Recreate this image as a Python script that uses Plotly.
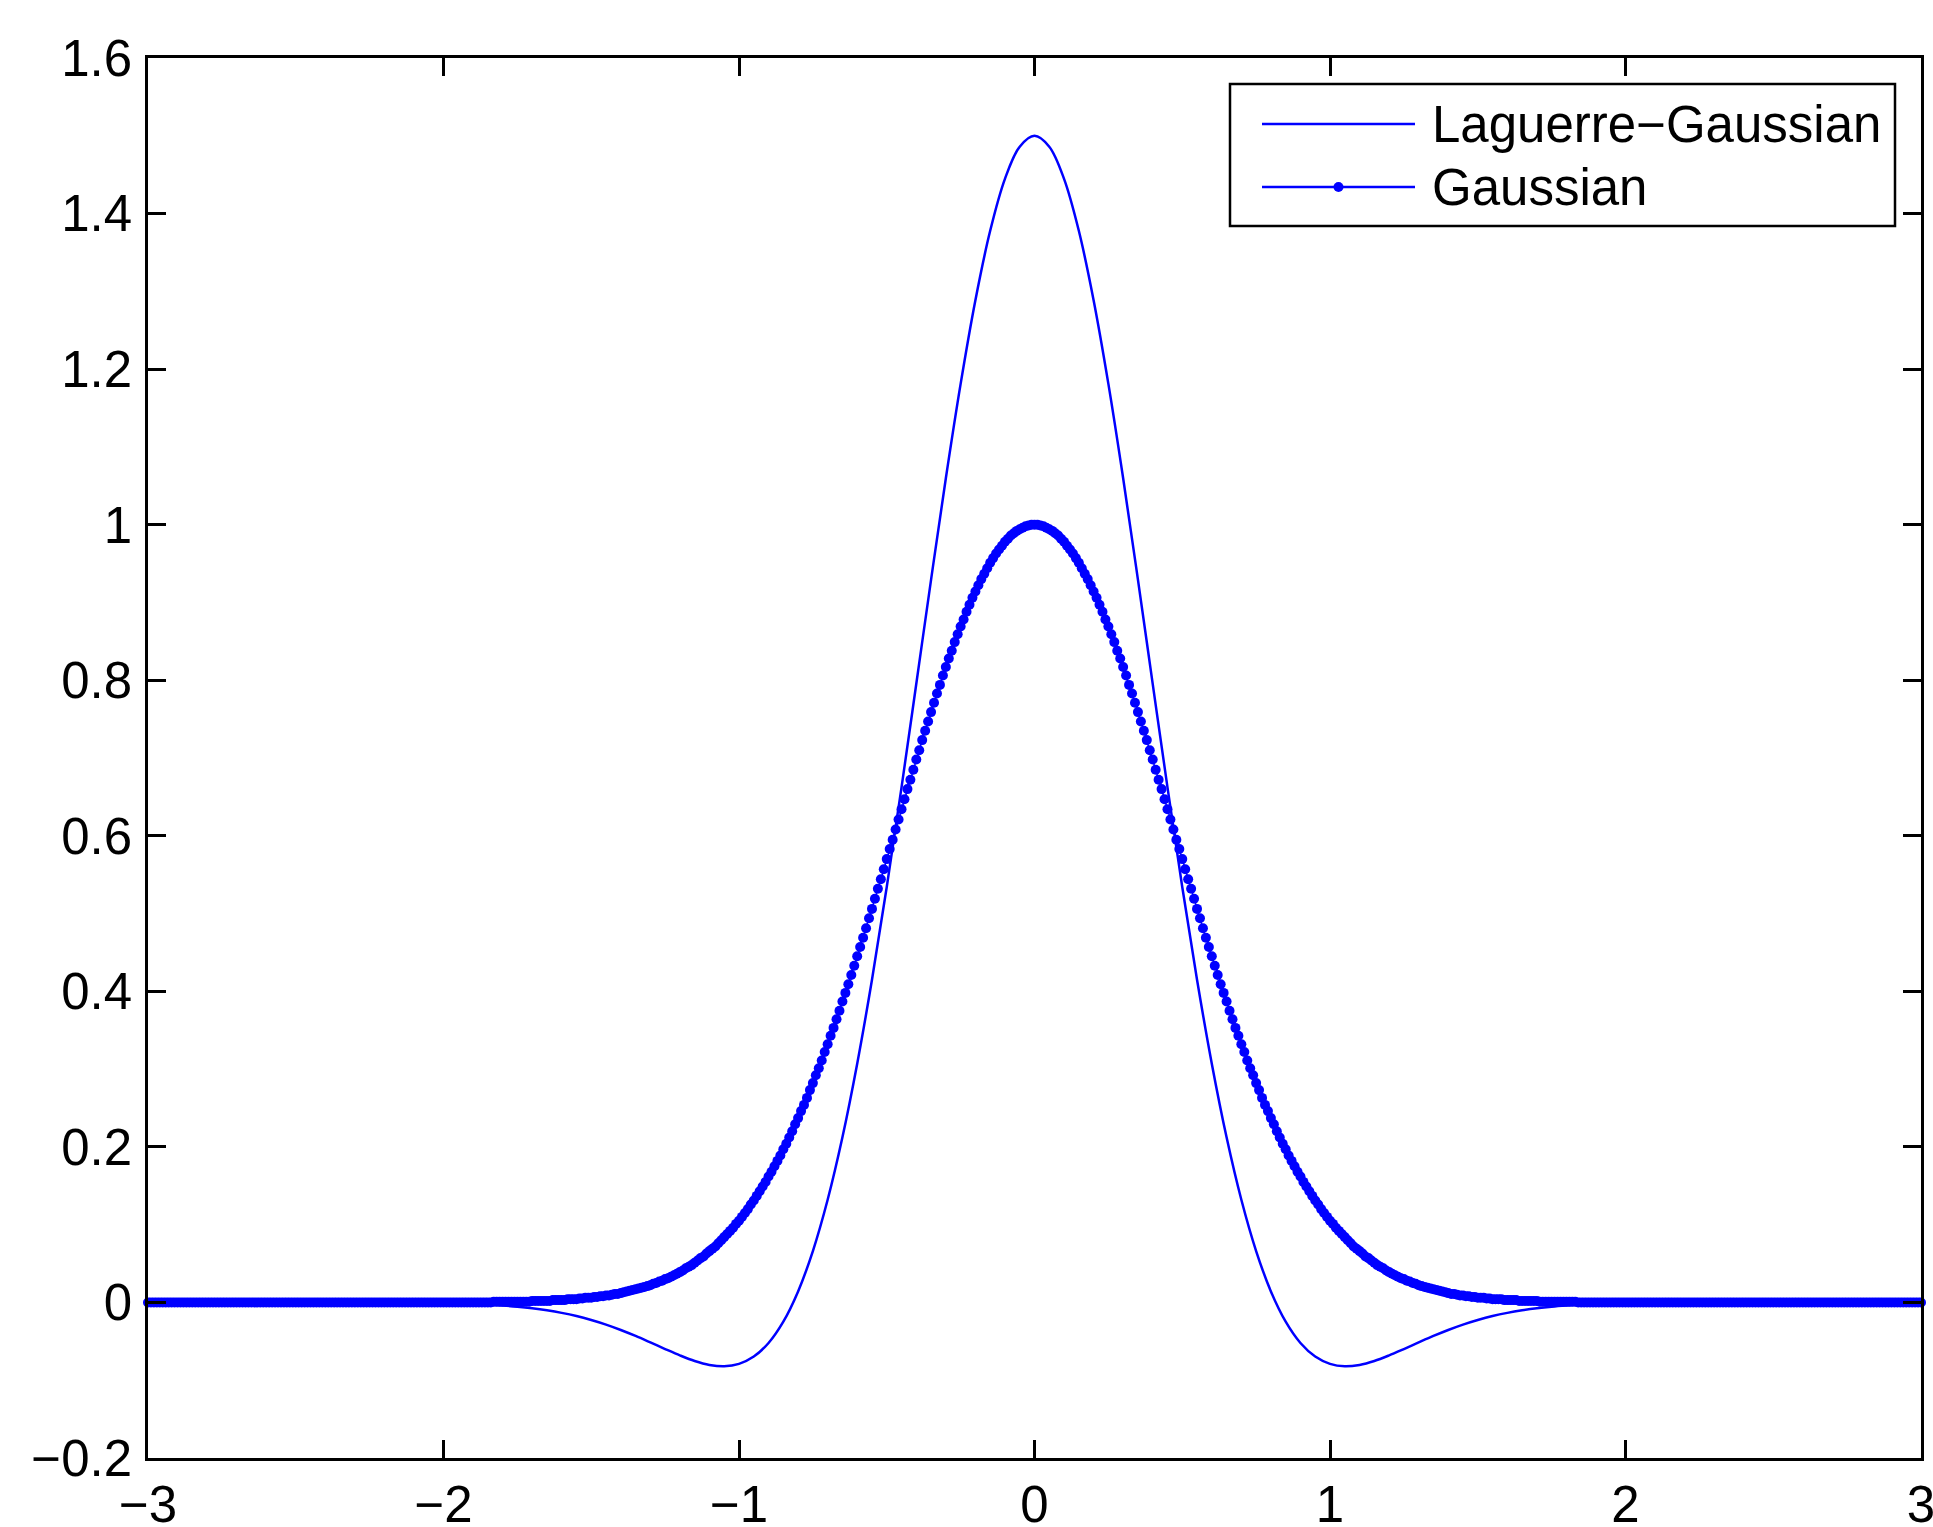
import numpy as np
import plotly.graph_objects as go

# ---------------- data ----------------
# Gaussian, sampled every 0.01 on [-3, 3]
gauss_x = np.round(np.linspace(-3, 3, 601), 2)
gauss_y = [
    0, 0, 0, 0, 0, 0, 0, 0, 0, 0, 0, 0, 0, 0, 0, 0, 0, 0, 0, 0,
    0, 0, 0, 0, 0, 0, 0, 0, 0, 0, 0, 0, 0, 0, 0, 0, 0, 0, 0, 0,
    0, 0, 0, 0, 0, 0, 0, 0, 0, 0, 0, 0, 0, 0, 0, 0, 0, 0, 0, 0,
    0, 0, 0, 0, 0, 0, 0, 0, 0, 0, 0, 0, 0, 0, 0, 0, 0, 0, 0, 0,
    0, 0, 0, 0, 0, 0, 0, 0, 0, 0, 0, 0, 0, 0, 0, 0, 0, 0, 0, 0,
    0, 0, 0, 0, 0, 0, 0, 0, 0, 0, 0, 0, 0, 0, 0, 0, 0,
    0.001, 0.001, 0.001,
    0.001, 0.001, 0.001, 0.001, 0.001, 0.001, 0.001, 0.001, 0.001, 0.001,
    0.002, 0.002, 0.002, 0.002, 0.002, 0.002, 0.002, 0.003, 0.003, 0.003,
    0.003, 0.003, 0.004, 0.004, 0.004, 0.004, 0.005, 0.005, 0.006, 0.006,
    0.006, 0.007, 0.007, 0.008, 0.008, 0.009, 0.009, 0.010, 0.011, 0.011,
    0.012, 0.013, 0.014, 0.015, 0.016, 0.017, 0.018, 0.019, 0.020, 0.021,
    0.022, 0.024, 0.025, 0.027, 0.028, 0.030, 0.031, 0.033, 0.035, 0.037,
    0.039, 0.041, 0.044, 0.046, 0.048, 0.051, 0.054, 0.057, 0.059, 0.063,
    0.066, 0.069, 0.072, 0.076, 0.080, 0.084, 0.088, 0.092, 0.096, 0.101,
    0.105, 0.110, 0.115, 0.120, 0.126, 0.131, 0.137, 0.143, 0.149, 0.155,
    0.162, 0.168, 0.175, 0.182, 0.189, 0.197, 0.204, 0.212, 0.220, 0.229,
    0.237, 0.246, 0.254, 0.263, 0.273, 0.282, 0.292, 0.301, 0.311, 0.322,
    0.332, 0.343, 0.353, 0.364, 0.375, 0.387, 0.398, 0.409, 0.421, 0.433,
    0.445, 0.457, 0.469, 0.481, 0.494, 0.506, 0.519, 0.532, 0.544, 0.557,
    0.570, 0.583, 0.595, 0.608, 0.621, 0.634, 0.647, 0.660, 0.672, 0.685,
    0.698, 0.710, 0.723, 0.735, 0.747, 0.759, 0.771, 0.783, 0.794, 0.806,
    0.817, 0.828, 0.838, 0.849, 0.859, 0.869, 0.878, 0.888, 0.897, 0.906,
    0.914, 0.922, 0.930, 0.937, 0.944, 0.951, 0.957, 0.963, 0.968, 0.973,
    0.978, 0.982, 0.986, 0.989, 0.992, 0.994, 0.996, 0.998, 0.999, 1.000,
    1.000,
    1.000, 0.999, 0.998, 0.996, 0.994, 0.992, 0.989, 0.986, 0.982, 0.978,
    0.973, 0.968, 0.963, 0.957, 0.951, 0.944, 0.937, 0.930, 0.922, 0.914,
    0.906, 0.897, 0.888, 0.878, 0.869, 0.859, 0.849, 0.838, 0.828, 0.817,
    0.806, 0.794, 0.783, 0.771, 0.759, 0.747, 0.735, 0.723, 0.710, 0.698,
    0.685, 0.672, 0.660, 0.647, 0.634, 0.621, 0.608, 0.595, 0.583, 0.570,
    0.557, 0.544, 0.532, 0.519, 0.506, 0.494, 0.481, 0.469, 0.457, 0.445,
    0.433, 0.421, 0.409, 0.398, 0.387, 0.375, 0.364, 0.353, 0.343, 0.332,
    0.322, 0.311, 0.301, 0.292, 0.282, 0.273, 0.263, 0.254, 0.246, 0.237,
    0.229, 0.220, 0.212, 0.204, 0.197, 0.189, 0.182, 0.175, 0.168, 0.162,
    0.155, 0.149, 0.143, 0.137, 0.131, 0.126, 0.120, 0.115, 0.110, 0.105,
    0.101, 0.096, 0.092, 0.088, 0.084, 0.080, 0.076, 0.072, 0.069, 0.066,
    0.063, 0.059, 0.057, 0.054, 0.051, 0.048, 0.046, 0.044, 0.041, 0.039,
    0.037, 0.035, 0.033, 0.031, 0.030, 0.028, 0.027, 0.025, 0.024, 0.022,
    0.021, 0.020, 0.019, 0.018, 0.017, 0.016, 0.015, 0.014, 0.013, 0.012,
    0.011, 0.011, 0.010, 0.009, 0.009, 0.008, 0.008, 0.007, 0.007, 0.006,
    0.006, 0.006, 0.005, 0.005, 0.004, 0.004, 0.004, 0.004, 0.003, 0.003,
    0.003, 0.003, 0.003, 0.002, 0.002, 0.002, 0.002, 0.002, 0.002, 0.002,
    0.001, 0.001, 0.001, 0.001, 0.001, 0.001, 0.001, 0.001, 0.001, 0.001,
    0.001, 0.001, 0.001,
    0, 0, 0, 0, 0, 0, 0, 0, 0, 0, 0, 0, 0, 0, 0, 0, 0,
    0, 0, 0, 0, 0, 0, 0, 0, 0, 0, 0, 0, 0, 0, 0, 0, 0, 0, 0, 0,
    0, 0, 0, 0, 0, 0, 0, 0, 0, 0, 0, 0, 0, 0, 0, 0, 0, 0, 0, 0,
    0, 0, 0, 0, 0, 0, 0, 0, 0, 0, 0, 0, 0, 0, 0, 0, 0, 0, 0, 0,
    0, 0, 0, 0, 0, 0, 0, 0, 0, 0, 0, 0, 0, 0, 0, 0, 0, 0, 0, 0,
    0, 0, 0, 0, 0, 0, 0, 0, 0, 0, 0, 0, 0, 0, 0, 0, 0, 0, 0, 0,
]

# Laguerre-Gaussian, sampled every 0.05 on [-3, 3]
lg_x = np.round(np.linspace(-3, 3, 121), 2)
lg_y = [
    0, 0, 0, 0, 0, 0, 0, 0, 0, 0, 0, 0, 0, 0, 0, 0, 0,
    -0.0003, -0.0004, -0.0006,
    -0.0009, -0.0014, -0.0020, -0.0028, -0.0040, -0.0055, -0.0075, -0.0101, -0.0134, -0.0175,
    -0.0226, -0.0285, -0.0354, -0.0431, -0.0514, -0.0599, -0.0681, -0.0753, -0.0803, -0.0821,
    -0.0790, -0.0696, -0.0521, -0.0247, 0.0142, 0.0661, 0.1320, 0.2123, 0.3070, 0.4149,
    0.5342, 0.6622, 0.7954, 0.9294, 1.0597, 1.1810, 1.2886, 1.3778, 1.4446, 1.4860,
    1.5000,
    1.4860, 1.4446, 1.3778, 1.2886, 1.1810, 1.0597, 0.9294, 0.7954, 0.6622, 0.5342,
    0.4149, 0.3070, 0.2123, 0.1320, 0.0661, 0.0142, -0.0247, -0.0521, -0.0696, -0.0790,
    -0.0821, -0.0803, -0.0753, -0.0681, -0.0599, -0.0514, -0.0431, -0.0354, -0.0285, -0.0226,
    -0.0175, -0.0134, -0.0101, -0.0075, -0.0055, -0.0040, -0.0028, -0.0020, -0.0014, -0.0009,
    -0.0006, -0.0004, -0.0003,
    0, 0, 0, 0, 0, 0, 0, 0, 0, 0, 0, 0, 0, 0, 0, 0, 0,
]

series_names = ["Laguerre\u2212Gaussian", "Gaussian"]

x_tickvals = [-3, -2, -1, 0, 1, 2, 3]
x_ticktext = ["\u22123", "\u22122", "\u22121", "0", "1", "2", "3"]
y_tickvals = [-0.2, 0, 0.2, 0.4, 0.6, 0.8, 1.0, 1.2, 1.4, 1.6]
y_ticktext = ["\u22120.2", "0", "0.2", "0.4", "0.6", "0.8", "1", "1.2", "1.4", "1.6"]

# ---------------- figure ----------------
BLUE = "#0000FF"
FONT = "Liberation Sans, Arial, Helvetica, sans-serif"

fig = go.Figure()
fig.add_trace(go.Scatter(
    x=lg_x, y=lg_y, mode="lines", name=series_names[0],
    line=dict(color=BLUE, width=2.5, shape="spline", smoothing=1.0),
    showlegend=False,
))
fig.add_trace(go.Scatter(
    x=gauss_x, y=gauss_y, mode="lines+markers", name=series_names[1],
    line=dict(color=BLUE, width=1.5),
    marker=dict(color=BLUE, size=10, line=dict(width=0)),
    cliponaxis=False, showlegend=False,
))

axis_common = dict(
    showgrid=False, zeroline=False, showline=True, linecolor="black", linewidth=2.5,
    mirror="ticks", ticks="inside", ticklen=18, tickwidth=2.5, tickcolor="black",
    tickfont=dict(family=FONT, size=51, color="black"), automargin=False,
    ticklabeloverflow="allow",
)
fig.update_xaxes(range=[-3, 3], tickmode="array", tickvals=x_tickvals,
                 ticktext=x_ticktext, ticklabelstandoff=0, **axis_common)
fig.update_yaxes(range=[-0.2, 1.6], tickmode="array", tickvals=y_tickvals,
                 ticktext=y_ticktext, ticklabelstandoff=3, **axis_common)

# ---------------- legend box (drawn as in the reference) ----------------
W, H = 1933, 1527
ML, MR, MT, MB = 148, 12, 58, 69
PW, PH = W - ML - MR, H - MT - MB


def px(xp):
    return (xp - ML) / PW


def py(yp):
    return (H - MB - yp) / PH


shapes = [
    dict(type="rect", xref="paper", yref="paper",
         x0=px(1230), x1=px(1895), y0=py(226), y1=py(84),
         line=dict(color="black", width=2.5), fillcolor="white", layer="above"),
]
rows = [124, 187]
for i, r in enumerate(rows):
    shapes.append(dict(type="line", xref="paper", yref="paper",
                       x0=px(1262), x1=px(1415), y0=py(r), y1=py(r),
                       line=dict(color=BLUE, width=2.5), layer="above"))
shapes.append(dict(type="circle", xref="paper", yref="paper",
                   xsizemode="pixel", ysizemode="pixel",
                   xanchor=px(1338.5), yanchor=py(rows[1]),
                   x0=-5, x1=5, y0=-5, y1=5,
                   fillcolor=BLUE, line=dict(color=BLUE, width=0), layer="above"))

annotations = []
for i, r in enumerate(rows):
    annotations.append(dict(
        xref="paper", yref="paper", x=px(1430), y=py(r),
        xanchor="left", yanchor="middle", showarrow=False,
        text=series_names[i], font=dict(family=FONT, size=51, color="black"),
    ))

fig.update_layout(
    width=W, height=H,
    margin=dict(l=ML, r=MR, t=MT, b=MB, pad=0, autoexpand=False),
    paper_bgcolor="white", plot_bgcolor="white",
    showlegend=False,
    shapes=shapes, annotations=annotations,
    font=dict(family=FONT, size=51, color="black"),
)

fig.write_html(
    "out.html",
    config={"displayModeBar": False},
    post_script="document.body.style.margin='0';document.body.style.overflow='hidden';",
)
